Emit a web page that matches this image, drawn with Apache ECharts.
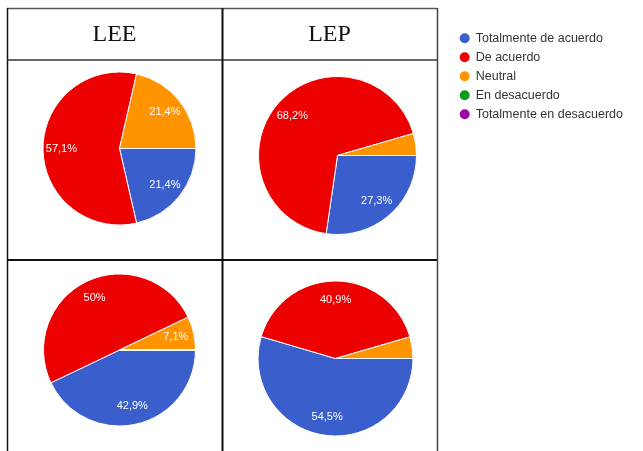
<!DOCTYPE html>
<html>
<head>
<meta charset="utf-8">
<script src="https://cdn.jsdelivr.net/npm/echarts@6/dist/echarts.min.js"></script>
<style>
html,body{margin:0;padding:0;background:#fff;}
#c{width:643px;height:451px;}
</style>
</head>
<body>
<div id="c"></div>
<script>
const categories = ['Totalmente de acuerdo', 'De acuerdo', 'Neutral', 'En desacuerdo', 'Totalmente en desacuerdo'];
const colors = ['#3a5fcd', '#ec0000', '#ff9400', '#0c9c1e', '#a0049e'];
const columnTitles = ['LEE', 'LEP'];
const leeTop = [21.4, 57.1, 21.4, 0, 0];
const lepTop = [27.3, 68.2, 4.5, 0, 0];
const leeBottom = [42.9, 50, 7.1, 0, 0];
const lepBottom = [54.5, 40.9, 4.5, 0, 0];

const pies = [
  { values: leeTop, center: [119.5, 148.5], r: 76.5 },
  { values: lepTop, center: [337.5, 155.5], r: 79 },
  { values: leeBottom, center: [119.5, 350], r: 76 },
  { values: lepBottom, center: [335.5, 358.5], r: 77.5 }
];

function fmt(v) {
  if (v < 5) return '';
  return String(v).replace('.', ',') + '%';
}

const series = [];
pies.forEach(p => {
  const data = categories.map((n, i) => ({ name: n, value: p.values[i] }));
  series.push({
    type: 'pie',
    center: p.center,
    radius: [0, p.r],
    startAngle: 0,
    clockwise: true,
    animation: false,
    silent: true,
    color: colors,
    label: { show: false },
    labelLine: { show: false },
    itemStyle: { borderColor: '#ffffff', borderWidth: 1 },
    emphasis: { disabled: true },
    data: data
  });
  series.push({
    type: 'pie',
    center: p.center,
    radius: [p.r * 0.44, p.r],
    startAngle: 0,
    clockwise: true,
    animation: false,
    silent: true,
    legendHoverLink: false,
    color: colors,
    itemStyle: { color: 'rgba(0,0,0,0)', borderWidth: 0 },
    label: {
      show: true,
      position: 'inside',
      color: '#ffffff',
      fontSize: 11,
      fontFamily: 'Liberation Sans, Arial, sans-serif',
      formatter: params => fmt(params.value)
    },
    labelLine: { show: false },
    emphasis: { disabled: true },
    data: data
  });
});

const lineStyle = (c, w) => ({ stroke: c, lineWidth: w });
const graphic = [
  { type: 'line', shape: { x1: 7, y1: 8.5, x2: 437.5, y2: 8.5 }, style: lineStyle('#555', 1.5) },
  { type: 'line', shape: { x1: 7.5, y1: 8, x2: 7.5, y2: 451 }, style: lineStyle('#111', 1.5) },
  { type: 'line', shape: { x1: 7, y1: 60, x2: 437.5, y2: 60 }, style: lineStyle('#333', 1.5) },
  { type: 'line', shape: { x1: 222.5, y1: 8, x2: 222.5, y2: 451 }, style: lineStyle('#111', 2) },
  { type: 'line', shape: { x1: 7, y1: 260, x2: 437.5, y2: 260 }, style: lineStyle('#111', 2) },
  { type: 'line', shape: { x1: 437.5, y1: 8, x2: 437.5, y2: 451 }, style: lineStyle('#444', 1.5) },
  { type: 'text', x: 114.5, y: 35, style: { text: columnTitles[0], fill: '#111', font: '24px "Liberation Serif", "Times New Roman", serif', textAlign: 'center', textVerticalAlign: 'middle' } },
  { type: 'text', x: 329.5, y: 35, style: { text: columnTitles[1], fill: '#111', font: '24px "Liberation Serif", "Times New Roman", serif', textAlign: 'center', textVerticalAlign: 'middle' } }
];

const chart = echarts.init(document.getElementById('c'), null, { renderer: 'canvas' });
chart.setOption({
  animation: false,
  backgroundColor: '#ffffff',
  legend: {
    orient: 'vertical',
    left: 452.7,
    top: 26.3,
    icon: 'circle',
    itemWidth: 12,
    itemHeight: 12,
    itemGap: 5,
    itemTextGap: 6,
    selectedMode: false,
    textStyle: { color: '#333', fontSize: 12.5, lineHeight: 13, fontFamily: 'Liberation Sans, Arial, sans-serif' },
    data: categories
  },
  graphic: graphic,
  series: series
});
</script>
</body>
</html>
